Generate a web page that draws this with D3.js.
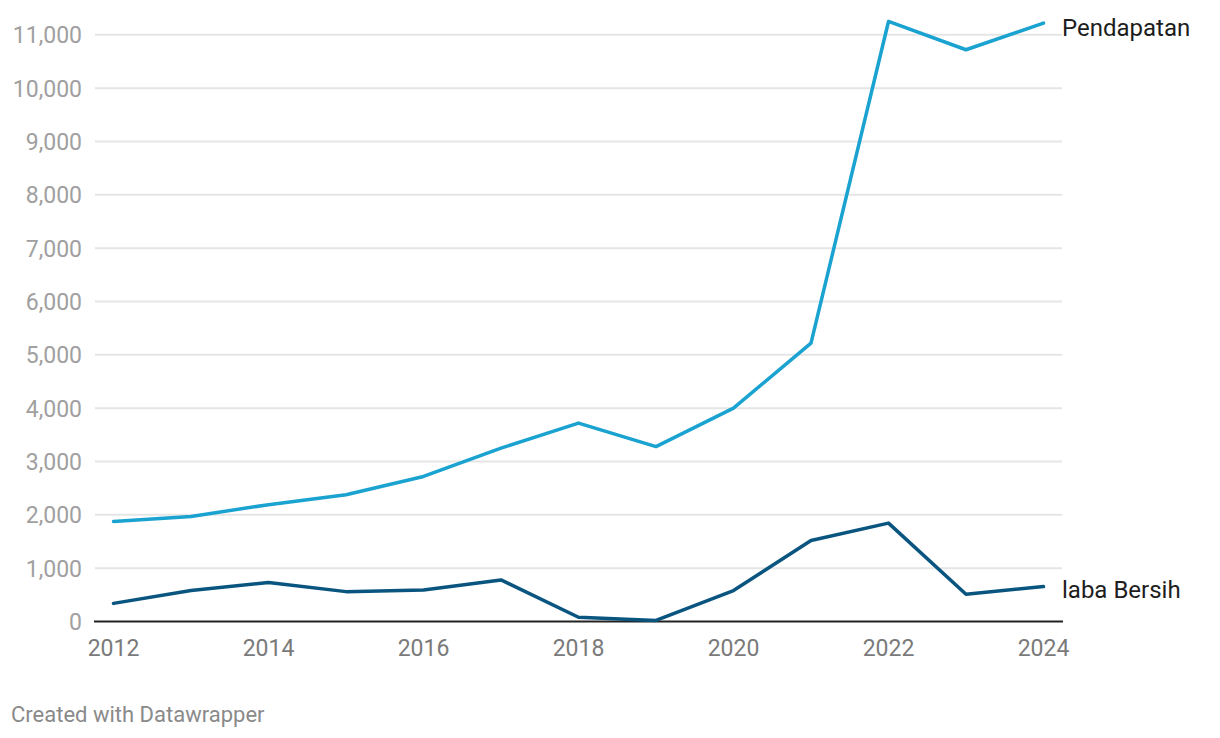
<!DOCTYPE html>
<html>
<head>
<meta charset="utf-8">
<script src="https://cdn.jsdelivr.net/npm/d3@7"></script>
<style>
  body { margin: 0; background: #fff; font-family: Roboto, sans-serif; }
</style>
</head>
<body>
<div id="container"></div>
<script>
/* DATA */
const years = [2012, 2013, 2014, 2015, 2016, 2017, 2018, 2019, 2020, 2021, 2022, 2023, 2024];
const pendapatan = [1875, 1970, 2190, 2375, 2720, 3250, 3720, 3280, 4000, 5220, 11250, 10720, 11220];
const labaBersih = [340, 580, 730, 560, 590, 780, 80, 20, 580, 1520, 1845, 510, 655];
const yTicks = [0, 1000, 2000, 3000, 4000, 5000, 6000, 7000, 8000, 9000, 10000, 11000];
const xTicks = [2012, 2014, 2016, 2018, 2020, 2022, 2024];

/* CONSTANTS */
const width = 1220, height = 738;
const margin = { top: 35, bottom: 116.5, left: 95, right: 158 };

const svg = d3.select("#container")
  .append("svg")
  .attr("width", width)
  .attr("height", height);

/* SCALES */
const xScale = d3.scaleLinear()
  .domain([2012, 2024])
  .range([113.5, 1043.5]);

const yScale = d3.scaleLinear()
  .domain([0, 11000])
  .range([621.5, 34.8]);

// gridlines
svg.append("g")
  .selectAll("line")
  .data(yTicks.filter(d => d > 0))
  .join("line")
  .attr("x1", margin.left)
  .attr("x2", 1062)
  .attr("y1", d => yScale(d))
  .attr("y2", d => yScale(d))
  .attr("stroke", "#e5e5e5")
  .attr("stroke-width", 2);

// y labels
svg.append("g")
  .selectAll("text")
  .data(yTicks)
  .join("text")
  .attr("x", 82)
  .attr("y", d => yScale(d) + 8.5)
  .attr("text-anchor", "end")
  .style("font-size", "23px")
  .style("fill", "#a0a0a0")
  .text(d => d3.format(",")(d));

// x labels
svg.append("g")
  .selectAll("text")
  .data(xTicks)
  .join("text")
  .attr("x", d => xScale(d))
  .attr("y", 656)
  .attr("text-anchor", "middle")
  .style("font-size", "23px")
  .style("fill", "#7a7a7a")
  .text(d => d);

// baseline
svg.append("line")
  .attr("x1", 94)
  .attr("x2", 1063)
  .attr("y1", yScale(0))
  .attr("y2", yScale(0))
  .attr("stroke", "#222")
  .attr("stroke-width", 2);

// lines
const series = [
  { name: "Pendapatan", values: pendapatan, color: "#1aa2d0", labelY: 36 },
  { name: "laba Bersih", values: labaBersih, color: "#0a5580", labelY: 597.5 }
];

const line = d3.line()
  .x((d, i) => xScale(years[i]))
  .y(d => yScale(d));

svg.selectAll(".series")
  .data(series)
  .join("path")
  .attr("class", "series")
  .attr("d", d => line(d.values))
  .attr("fill", "none")
  .attr("stroke", d => d.color)
  .attr("stroke-width", 3.5)
  .attr("stroke-linejoin", "round")
  .attr("stroke-linecap", "round");

svg.selectAll(".label")
  .data(series)
  .join("text")
  .attr("class", "label")
  .attr("x", 1062)
  .attr("y", d => d.labelY)
  .style("font-size", "24px")
  .style("fill", "#1d1d1d")
  .text(d => d.name);

// credit
svg.append("text")
  .attr("x", 11)
  .attr("y", 721.5)
  .style("font-size", "22px")
  .style("fill", "#8a8a8a")
  .text("Created with Datawrapper");
</script>
</body>
</html>
